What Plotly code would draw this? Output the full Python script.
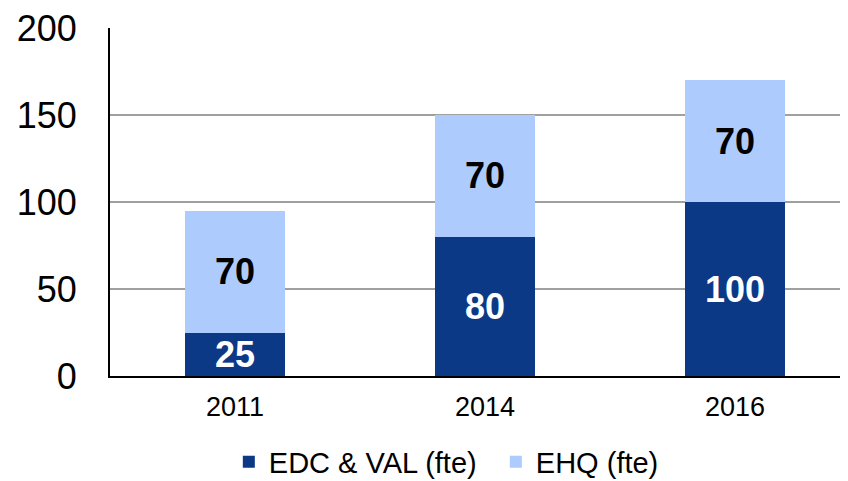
import plotly.graph_objects as go

categories = ["2011", "2014", "2016"]
edc_val = [25, 80, 100]
ehq = [70, 70, 70]
y_ticks = [0, 50, 100, 150, 200]

FONT = "Liberation Sans, Arial, sans-serif"

fig = go.Figure()
fig.add_trace(go.Bar(
    x=categories, y=edc_val, name="EDC & VAL (fte)",
    marker=dict(color="#0C3986", line=dict(width=0)),
    text=edc_val, textposition="inside", insidetextanchor="middle",
    textangle=0, cliponaxis=False,
    textfont=dict(family=FONT, size=36, color="white", weight="bold"),
    width=0.4,
))
fig.add_trace(go.Bar(
    x=categories, y=ehq, name="EHQ (fte)",
    marker=dict(color="#ADCBFC", line=dict(width=0)),
    text=ehq, textposition="inside", insidetextanchor="middle",
    textangle=0, cliponaxis=False,
    textfont=dict(family=FONT, size=36, color="black", weight="bold"),
    width=0.4,
))

# the page body adds an 8px margin, so size/margins compensate for it
fig.update_layout(
    barmode="stack",
    width=840, height=473,
    margin=dict(l=102, r=0, t=20, b=105, autoexpand=False),
    paper_bgcolor="white", plot_bgcolor="white",
    font=dict(family=FONT, color="black"),
    uniformtext=dict(minsize=36, mode="show"),
    legend=dict(
        orientation="h", x=0.161, xanchor="left", y=-0.247, yanchor="middle",
        font=dict(size=29), traceorder="normal", entrywidth=222,
        bgcolor="rgba(0,0,0,0)",
    ),
    showlegend=True,
)
fig.update_yaxes(
    range=[0, 200], tickvals=y_ticks, automargin=False,
    ticklabeloverflow="allow",
    showgrid=True, gridcolor="#A0A0A0", gridwidth=2,
    showline=True, linecolor="black", linewidth=2,
    tickfont=dict(size=36), ticklabelstandoff=24,
    zeroline=False,
)
fig.update_xaxes(
    range=[-0.5, 2.452], automargin=False,
    showline=True, linecolor="black", linewidth=2,
    tickfont=dict(size=27), ticklabelstandoff=6,
)

fig.write_html("out.html")
